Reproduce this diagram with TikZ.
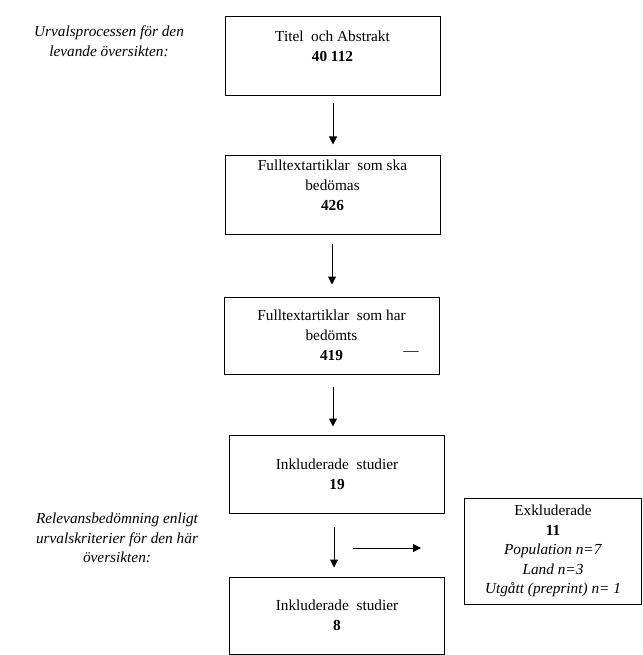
\documentclass[tikz,border=0pt]{standalone}
\usepackage{fontspec}
\setmainfont{Liberation Serif}
\usetikzlibrary{arrows.meta,calc}
\begin{document}
\begin{tikzpicture}[x=1pt,y=-1pt,
  every node/.style={font=\fontsize{15.3}{20}\selectfont, inner sep=0pt},
  flowbox/.style={draw, line width=1pt, minimum width=215pt, align=center},
  sidenote/.style={align=center, font=\fontsize{15.3}{19.5}\selectfont\itshape},
  arr/.style={line width=1pt, -{Triangle[length=8pt,width=8pt]}}]
\useasboundingbox (0,0) rectangle (642,655);
\node[flowbox, minimum height=79pt] (b1) at (332.5,56.5) {Titel\ \ och Abstrakt\\\textbf{40 112}\\\mbox{}};
\node[flowbox, minimum height=78pt] (b2) at (332.5,195) {Fulltextartiklar\ \ som\ ska\\bedömas\\\textbf{426}\\\mbox{}};
\node[flowbox, minimum height=77pt] (b3) at (331.5,335.5) {Fulltextartiklar\ \ som\ har\\bedömts\\\textbf{419}};
\node (dash) at (411,354) {—};
\node[flowbox, minimum height=78pt] (b4) at (337,474) {Inkluderade\ \ studier\\\textbf{19}};
\node[flowbox, minimum height=77pt] (b5) at (337,615.5) {Inkluderade\ \ studier\\\textbf{8}};
\node[draw, line width=1pt, minimum width=177pt, minimum height=106pt, align=center,
  font=\fontsize{15.3}{19.5}\selectfont] (b6) at (553,551)
  {Exkluderade\\\textbf{11}\\\textit{Population n=7}\\\textit{Land n=3}\\\textit{Utgått (preprint) n= 1}};
\node[sidenote] (t1) at (109,41) {Urvalsprocessen för den\\levande översikten:};
\node[sidenote] (t2) at (117,538) {Relevansbedömning enligt\\urvalskriterier för den här\\översikten:};
\draw[arr] ($(b1.south)+(0.5,7)$) -- ($(b1.south|-b2.north)+(0.5,-11)$);
\draw[arr] ($(b2.south)+(-0.5,9)$) -- ($(b2.south|-b3.north)+(-0.5,-12)$);
\draw[arr] ($(b3.south)+(1.5,12)$) -- ($(b3.south|-b4.north)+(1.5,-8)$);
\draw[arr] ($(b4.south)+(-3,13)$) -- ($(b4.south|-b5.north)+(-3,-9)$);
\coordinate (hs) at (353,548);
\coordinate (he) at (421,548);
\draw[arr] (hs) -- (he);
\end{tikzpicture}
\end{document}
